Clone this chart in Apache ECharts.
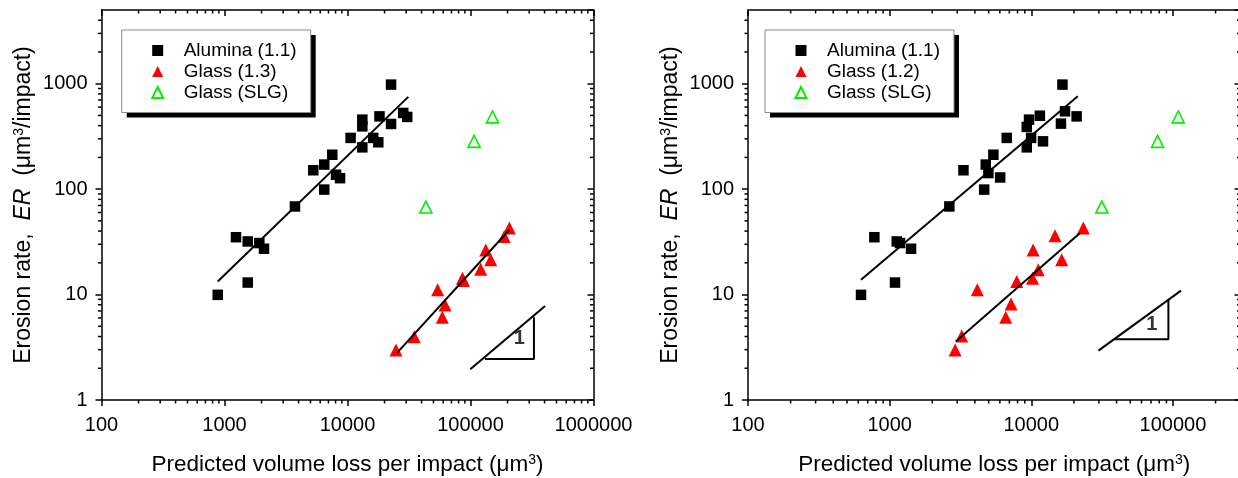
<!DOCTYPE html>
<html><head><meta charset="utf-8">
<script src="https://cdn.jsdelivr.net/npm/echarts@6/dist/echarts.min.js"></script>
<style>html,body{margin:0;padding:0;background:#fff}#c{width:1238px;height:478px}</style>
</head><body><div id="c"></div>
<script>
const FONT = 'Liberation Sans, Arial, Helvetica, sans-serif';

// ---------- Left panel data ----------
const aluminaL_x = [22600, 28400, 30600, 18200, 22600, 13200, 13200, 10600, 13200, 16200, 17800, 7520, 6470, 5270, 8070, 8700, 6470, 3740, 1240, 1545, 1920, 2095, 1545, 881];
const aluminaL_y = [980, 528, 484, 490, 415, 456, 394, 306, 249, 306, 278, 212, 171, 151, 137, 127, 99, 68.5, 35, 31.9, 30.8, 27.2, 13, 9.94];
const glassL_x = [24800, 34900, 54100, 62100, 59000, 87500, 86000, 121000, 133000, 146000, 188000, 207000];
const glassL_y = [2.98, 3.99, 11.1, 7.98, 6.1, 13.6, 14.3, 17.4, 26.5, 21.4, 35.6, 42.7];
const slgL_x = [151000, 107000, 43400];
const slgL_y = [484, 284, 67.6];
const fitAluminaL = [[881, 13.3], [31200, 750]];
const fitGlassL = [[25400, 2.81], [207000, 41.2]];
const slopeLineL = [[99600, 1.96], [404000, 7.8]];
const slopeTriL = [[131000, 2.45], [328000, 2.45], [328000, 6.1]];
const slopeLabelL = [[249000, 3.85]];

// ---------- Right panel data ----------
const aluminaR_x = [16600, 17300, 20900, 16200, 11500, 9640, 9290, 6710, 9970, 12100, 9290, 5400, 4770, 3320, 4980, 6030, 4650, 2640, 780, 1122, 1184, 1416, 1091, 628];
const aluminaR_y = [980, 547, 490, 418, 497, 456, 389, 306, 306, 284, 249, 212, 171, 151, 142, 129, 99, 68.5, 35, 31.9, 30.8, 27.2, 13, 9.94];
const glassR_x = [2900, 3230, 4160, 6600, 7200, 7900, 10200, 10300, 11200, 14700, 16400, 23300];
const glassR_y = [2.98, 4.05, 11.1, 6.1, 8.16, 13.3, 14.3, 26.5, 17.2, 36.1, 21.4, 42.7];
const slgR_x = [109000, 77900, 31500];
const slgR_y = [484, 284, 67.6];
const fitAluminaR = [[628, 13.8], [21300, 759]];
const fitGlassR = [[2930, 3.58], [22100, 38.3]];
const slopeLineR = [[29800, 2.94], [114000, 10.9]];
const slopeTriR = [[39100, 3.77], [92900, 3.77], [92900, 9.04]];
const slopeLabelR = [[71000, 5.15]];

// ---------- Axes / ticks ----------
const legendL = ['Alumina (1.1)', 'Glass (1.3)', 'Glass (SLG)'];
const legendR = ['Alumina (1.1)', 'Glass (1.2)', 'Glass (SLG)'];
const xRangeL = [100, 1000000];
const xRangeR = [100, 300000];
const yRange = [1, 5000];
const xMinorL = [200,300,400,500,600,700,800,900,2000,3000,4000,5000,6000,7000,8000,9000,20000,30000,40000,50000,60000,70000,80000,90000,200000,300000,400000,500000,600000,700000,800000,900000];
const xMinorR = [200,300,400,500,600,700,800,900,2000,3000,4000,5000,6000,7000,8000,9000,20000,30000,40000,50000,60000,70000,80000,90000,200000];
const yMinor = [2,3,4,5,6,7,8,9,20,30,40,50,60,70,80,90,200,300,400,500,600,700,800,900,2000,3000,4000];
const xTitle = 'Predicted volume loss per impact (\u03bcm{sup|3})';
const yTitle = 'Erosion rate,  {it|ER}  (\u03bcm{sup|3}/impact)';

const MAJOR = 6, MINOR = 3.5, LW = 1.5;
function richFor(fs) {
  return {
    sup: {fontSize: Math.round(fs * 0.6), verticalAlign: 'top', fontFamily: FONT, color: '#000'},
    it: {fontSize: fs, fontStyle: 'italic', fontFamily: FONT, color: '#000'}
  };
}
const fmt = v => String(Math.round(v));

function xAxes(gi, range, showMax) {
  const common = {type: 'log', logBase: 10, min: range[0], max: range[1], gridIndex: gi,
    splitLine: {show: false}, minorTick: {show: false},
    axisLine: {show: true, onZero: false, lineStyle: {color: '#000', width: LW}}};
  return [
    Object.assign({}, common, {position: 'bottom',
      axisTick: {show: true, inside: false, length: MAJOR, lineStyle: {color: '#000', width: LW}},
      axisLabel: {show: true, margin: 15, fontSize: 20, color: '#000', fontFamily: FONT, formatter: fmt, showMaxLabel: showMax, showMinLabel: true},
      name: xTitle, nameLocation: 'middle', nameGap: 53, nameMoveOverlap: false,
      nameTextStyle: {fontSize: 22.5, color: '#000', fontFamily: FONT, rich: richFor(22.5)}}),
    Object.assign({}, common, {position: 'top',
      axisTick: {show: true, inside: true, length: MAJOR, lineStyle: {color: '#000', width: LW}},
      axisLabel: {show: false}})
  ];
}
function yAxes(gi) {
  const common = {type: 'log', logBase: 10, min: yRange[0], max: yRange[1], gridIndex: gi,
    splitLine: {show: false}, minorTick: {show: false},
    axisLine: {show: true, onZero: false, lineStyle: {color: '#000', width: LW}}};
  return [
    Object.assign({}, common, {position: 'left',
      axisTick: {show: true, inside: false, length: MAJOR, lineStyle: {color: '#000', width: LW}},
      axisLabel: {show: true, margin: 14, fontSize: 20, color: '#000', fontFamily: FONT, formatter: fmt, showMaxLabel: false, showMinLabel: true},
      name: yTitle, nameLocation: 'middle', nameGap: 66, nameMoveOverlap: false,
      nameTextStyle: {fontSize: 23, color: '#000', fontFamily: FONT, rich: richFor(23)}}),
    Object.assign({}, common, {position: 'right',
      axisTick: {show: true, inside: true, length: MAJOR, lineStyle: {color: '#000', width: LW}},
      axisLabel: {show: false}})
  ];
}

function zip(xs, ys) { return xs.map((x, i) => [x, ys[i]]); }
function scatter(gi, name, xs, ys, symbol, size, itemStyle) {
  return {type: 'scatter', name, xAxisIndex: gi * 2, yAxisIndex: gi * 2, symbol, symbolSize: size,
    itemStyle, data: zip(xs, ys), z: 3, silent: true};
}
function line(gi, pts) {
  return {type: 'line', xAxisIndex: gi * 2, yAxisIndex: gi * 2, data: pts, symbol: 'none',
    lineStyle: {color: '#000', width: 2}, z: 4, silent: true};
}
function label(gi, pts) {
  return {type: 'scatter', xAxisIndex: gi * 2, yAxisIndex: gi * 2, data: pts, symbolSize: 1,
    itemStyle: {color: 'rgba(0,0,0,0)'}, silent: true, z: 5,
    label: {show: true, position: 'inside', formatter: '1', fontSize: 20, fontWeight: 'bold', color: '#000', fontFamily: FONT}};
}
function xMinorSeries(gi, vals) {
  return {type: 'custom', xAxisIndex: gi * 2, yAxisIndex: gi * 2, silent: true, clip: false, z: 6,
    data: vals.map(v => [v, yRange[0]]),
    renderItem: function (params, api) {
      const v = api.value(0);
      const b = api.coord([v, yRange[0]]), t = api.coord([v, yRange[1]]);
      const st = {stroke: '#000', lineWidth: LW};
      return {type: 'group', children: [
        {type: 'line', shape: {x1: b[0], y1: b[1], x2: b[0], y2: b[1] + MINOR}, style: st},
        {type: 'line', shape: {x1: t[0], y1: t[1], x2: t[0], y2: t[1] + MINOR}, style: st}
      ]};
    }};
}
function yMinorSeries(gi, vals, xr) {
  return {type: 'custom', xAxisIndex: gi * 2, yAxisIndex: gi * 2, silent: true, clip: false, z: 6,
    data: vals.map(v => [xr[0], v]),
    renderItem: function (params, api) {
      const v = api.value(1);
      const l = api.coord([xr[0], v]), r = api.coord([xr[1], v]);
      const st = {stroke: '#000', lineWidth: LW};
      return {type: 'group', children: [
        {type: 'line', shape: {x1: l[0], y1: l[1], x2: l[0] - MINOR, y2: l[1]}, style: st},
        {type: 'line', shape: {x1: r[0], y1: r[1], x2: r[0] - MINOR, y2: r[1]}, style: st}
      ]};
    }};
}
// Legend drawn twice: a white box with a hard black drop shadow holding the items,
// and an identical transparent copy on top that only draws the thin grey frame.
function legendPair(names, left) {
  const base = {show: true, orient: 'vertical', left: left, top: 30, data: names, selectedMode: false,
    itemWidth: 11, itemHeight: 11, itemGap: 2, padding: [11, 14, 10.5, 29.5]};
  const a = Object.assign({}, base, {z: 4,
    backgroundColor: '#fff', borderWidth: 0,
    shadowColor: '#000', shadowBlur: 0, shadowOffsetX: 5, shadowOffsetY: 5,
    textStyle: {fontSize: 19, color: '#000', fontFamily: FONT, padding: [0, 0, 0, 15.5]}});
  const b = Object.assign({}, base, {z: 5,
    backgroundColor: 'rgba(0,0,0,0)', borderColor: '#8a8a8a', borderWidth: 1,
    itemStyle: {opacity: 0},
    textStyle: {fontSize: 19, color: 'rgba(0,0,0,0)', fontFamily: FONT, padding: [0, 0, 0, 15.5]}});
  return [a, b];
}

const SQ = {color: '#000', opacity: 1};
const RED = {color: '#ff0000', opacity: 1};
const GRN = {color: '#ffffff', borderColor: '#00ee00', borderWidth: 1.6, opacity: 1};

const option = {
  animation: false,
  backgroundColor: '#fff',
  grid: [
    {left: 101.5, top: 10, width: 492, height: 390, outerBoundsMode: 'none', containLabel: false},
    {left: 748, top: 10, width: 492.5, height: 390, outerBoundsMode: 'none', containLabel: false}
  ],
  xAxis: [].concat(xAxes(0, xRangeL, true), xAxes(1, xRangeR, false)),
  yAxis: [].concat(yAxes(0), yAxes(1)),
  legend: [].concat(legendPair(legendL, 121.7), legendPair(legendR, 765)),
  series: [
    scatter(0, legendL[0], aluminaL_x, aluminaL_y, 'rect', 10.5, SQ),
    scatter(0, legendL[1], glassL_x, glassL_y, 'triangle', 13, RED),
    scatter(0, legendL[2], slgL_x, slgL_y, 'triangle', 12, GRN),
    line(0, fitAluminaL), line(0, fitGlassL), line(0, slopeLineL), line(0, slopeTriL), label(0, slopeLabelL),
    xMinorSeries(0, xMinorL), yMinorSeries(0, yMinor, xRangeL),
    scatter(1, legendR[0], aluminaR_x, aluminaR_y, 'rect', 10.5, SQ),
    scatter(1, legendR[1], glassR_x, glassR_y, 'triangle', 13, RED),
    scatter(1, legendR[2], slgR_x, slgR_y, 'triangle', 12, GRN),
    line(1, fitAluminaR), line(1, fitGlassR), line(1, slopeLineR), line(1, slopeTriR), label(1, slopeLabelR),
    xMinorSeries(1, xMinorR), yMinorSeries(1, yMinor, xRangeR)
  ]
};
const chart = echarts.init(document.getElementById('c'), null, {renderer: 'canvas'});
chart.setOption(option);
</script>
</body></html>
